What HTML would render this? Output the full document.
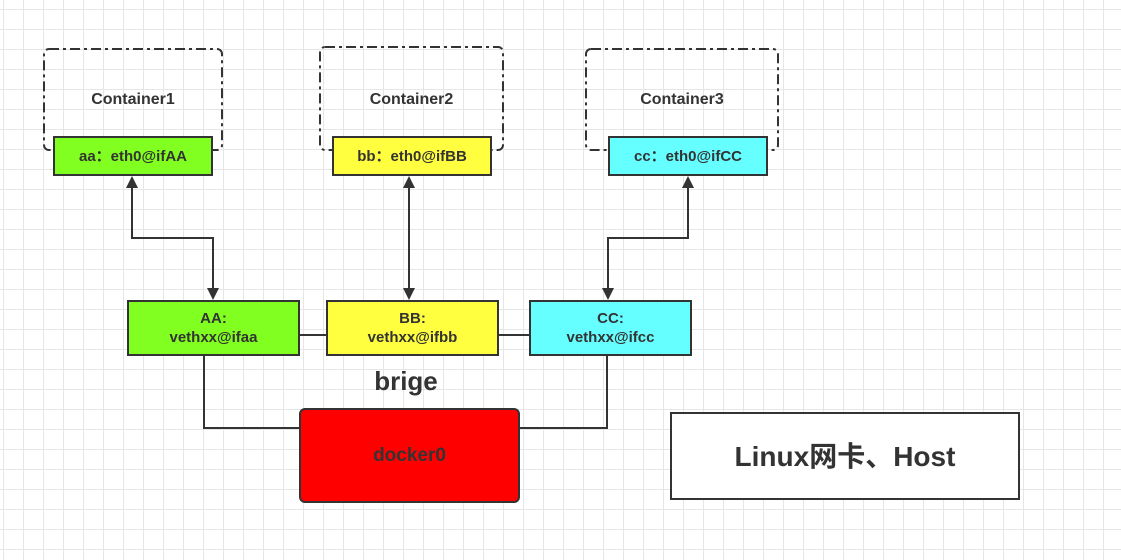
<!DOCTYPE html><html><head><style>
body{margin:0;width:1121px;height:560px;overflow:hidden;background:#fff;
background-image:linear-gradient(#e6e6e6 1px,transparent 1px),linear-gradient(90deg,#e6e6e6 1px,transparent 1px);
background-size:20px 20px;background-position:3px 9px;font-family:"Liberation Sans","Noto Sans CJK SC",sans-serif;}
.b{position:absolute;box-sizing:border-box;border:2px solid #333;display:flex;align-items:center;justify-content:center;text-align:center;font-weight:bold;color:#333;font-size:15px;line-height:19px}
.t{position:absolute;text-align:center;font-weight:bold;color:#333;font-size:16px}
</style></head><body>
<svg width="1121" height="560" style="position:absolute;left:0;top:0">
<g stroke="#333" stroke-width="2" fill="none" stroke-dasharray="10 4 3 4">
<rect x="44" y="49" width="178" height="101" rx="5"/>
<rect x="320" y="47" width="183" height="103" rx="5"/>
<rect x="586" y="49" width="192" height="101" rx="5"/>
</g>
<g stroke="#333" stroke-width="2" fill="none">
<path d="M132,186V238H213V290" />
<path d="M409,186V290"/>
<path d="M688,186V238H608V290"/>
<path d="M204,355V428H300M519,428H607V355M299,335H326M498,335H529"/>
</g>
<g fill="#333">
<path d="M126,188L132,176L138,188z"/><path d="M207,288L213,300L219,288z"/>
<path d="M403,188L409,176L415,188z"/><path d="M403,288L409,300L415,288z"/>
<path d="M682,188L688,176L694,188z"/><path d="M602,288L608,300L614,288z"/>
</g>
</svg>
<div class="t" style="left:43px;top:91px;width:180px">Container1</div>
<div class="t" style="left:319px;top:91px;width:185px">Container2</div>
<div class="t" style="left:585px;top:91px;width:194px">Container3</div>
<div class="b" style="left:53px;top:136px;width:160px;height:40px;background:#80ff20">aa：eth0@ifAA</div>
<div class="b" style="left:332px;top:136px;width:160px;height:40px;background:#ffff40">bb：eth0@ifBB</div>
<div class="b" style="left:608px;top:136px;width:160px;height:40px;background:#66ffff">cc：eth0@ifCC</div>
<div class="b" style="left:127px;top:300px;width:173px;height:56px;background:#80ff20">AA:<br>vethxx@ifaa</div>
<div class="b" style="left:326px;top:300px;width:173px;height:56px;background:#ffff40">BB:<br>vethxx@ifbb</div>
<div class="b" style="left:529px;top:300px;width:163px;height:56px;background:#66ffff">CC:<br>vethxx@ifcc</div>
<div style="position:absolute;left:306px;top:366px;width:200px;text-align:center;font-weight:bold;font-size:26px;color:#333">brige</div>
<div class="b" style="left:299px;top:408px;width:221px;height:95px;background:#ff0000;border-radius:6px;font-size:19px">docker0</div>
<div class="b" style="left:670px;top:412px;width:350px;height:88px;background:#fff;font-size:28px">Linux网卡、Host</div>
</body></html>
